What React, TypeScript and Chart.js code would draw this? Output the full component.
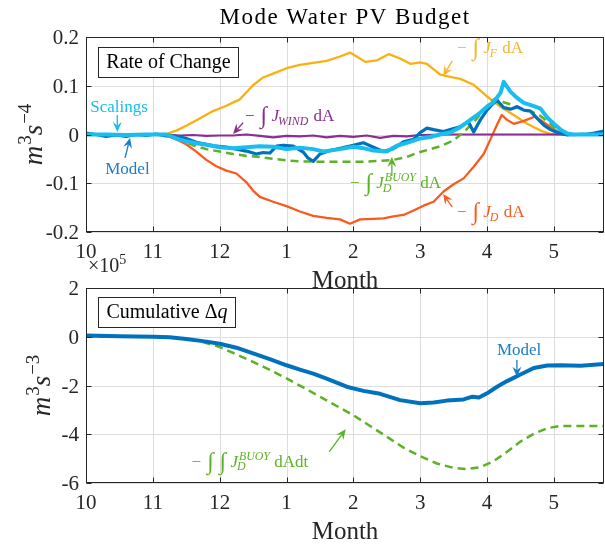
import React, { useEffect, useRef } from 'react';
import { Chart, registerables } from 'chart.js';
Chart.register(...registerables);

const FONT = "'Liberation Serif', 'Times New Roman', serif";

// ---------- axes / ticks ----------
const monthTicks = [0, 1, 2, 3, 4, 5, 6, 7];
const monthLabels = ['10', '11', '12', '1', '2', '3', '4', '5'];
const xMin = 0;
const xMax = 7.75;

const rateTicks = [0.2, 0.1, 0, -0.1, -0.2];
const rateTickLabels = ['0.2', '0.1', '0', '-0.1', '-0.2'];
const cumTicks = [2, 0, -2, -4, -6];
const cumTickLabels = ['2', '0', '-2', '-4', '-6'];

// ---------- top panel: rate of change (m^3 s^-4) ----------
const jfT = [0, 1.0, 1.2, 1.35, 1.5, 1.7, 1.9, 2.1, 2.3, 2.5, 2.65, 2.8, 3.0, 3.2, 3.4, 3.6, 3.8, 3.95, 4.05, 4.18, 4.35, 4.53, 4.7, 4.85, 5.0, 5.1, 5.3, 5.45, 5.6, 5.8, 6.0, 6.2, 6.4, 6.6, 6.8, 6.95, 7.1, 7.75];
const jfV = [0, 0, 0.001, 0.008, 0.018, 0.033, 0.048, 0.059, 0.072, 0.101, 0.117, 0.125, 0.136, 0.143, 0.147, 0.151, 0.160, 0.168, 0.160, 0.149, 0.152, 0.165, 0.156, 0.145, 0.148, 0.145, 0.123, 0.118, 0.114, 0.102, 0.078, 0.057, 0.040, 0.022, 0.008, 0.001, 0, 0];

const jdT = [0, 1.0, 1.2, 1.35, 1.5, 1.65, 1.8, 1.95, 2.1, 2.25, 2.4, 2.5, 2.6, 2.8, 3.0, 3.2, 3.4, 3.6, 3.8, 3.95, 4.1, 4.3, 4.45, 4.6, 4.75, 4.9, 5.05, 5.2, 5.35, 5.5, 5.65, 5.8, 5.95, 6.05, 6.15, 6.22, 6.3, 6.4, 6.55, 6.72, 6.8, 6.9, 7.0, 7.15, 7.75];
const jdV = [0, 0, -0.002, -0.010, -0.020, -0.035, -0.052, -0.065, -0.074, -0.080, -0.098, -0.115, -0.128, -0.138, -0.147, -0.158, -0.167, -0.171, -0.174, -0.183, -0.174, -0.173, -0.172, -0.168, -0.165, -0.156, -0.146, -0.138, -0.117, -0.102, -0.090, -0.066, -0.040, -0.010, 0.020, 0.040, 0.030, 0.022, 0.028, 0.037, 0.030, 0.020, 0.010, 0, 0];

const windT = [0, 1.2, 1.4, 1.6, 1.8, 2.0, 2.2, 2.4, 2.6, 2.8, 3.0, 3.2, 3.4, 3.6, 3.8, 4.0, 4.2, 4.4, 4.6, 4.8, 5.0, 5.5, 6.0, 6.5, 7.0, 7.2, 7.75];
const windV = [0, 0, -0.002, -0.001, -0.003, -0.002, -0.002, 0, -0.003, -0.006, -0.003, -0.004, -0.002, -0.006, -0.003, -0.005, -0.002, -0.007, -0.003, -0.004, -0.001, 0, 0, 0, 0, 0, 0];

const buoyT = [0, 1.2, 1.4, 1.6, 1.8, 2.0, 2.2, 2.4, 2.6, 2.8, 3.0, 3.2, 3.5, 3.8, 4.1, 4.4, 4.6, 4.8, 4.95, 5.1, 5.3, 5.5, 5.65, 5.8, 5.95, 6.05, 6.12, 6.2, 6.35, 6.5, 6.65, 6.8, 6.95, 7.05, 7.15, 7.75];
const buoyV = [0, 0, -0.010, -0.022, -0.030, -0.035, -0.040, -0.044, -0.046, -0.050, -0.053, -0.055, -0.056, -0.056, -0.056, -0.054, -0.052, -0.046, -0.038, -0.032, -0.024, -0.012, 0.005, 0.025, 0.050, 0.066, 0.074, 0.068, 0.062, 0.054, 0.048, 0.038, 0.022, 0.008, 0, 0];

const modelT = [0, 0.15, 0.3, 0.45, 0.6, 0.75, 0.9, 1.05, 1.2, 1.35, 1.5, 1.65, 1.8, 1.95, 2.1, 2.25, 2.4, 2.55, 2.65, 2.75, 2.85, 2.95, 3.1, 3.25, 3.32, 3.4, 3.5, 3.65, 3.85, 4.0, 4.15, 4.3, 4.45, 4.6, 4.75, 4.9, 5.0, 5.1, 5.2, 5.35, 5.5, 5.6, 5.72, 5.8, 5.9, 6.0, 6.08, 6.15, 6.25, 6.35, 6.45, 6.55, 6.65, 6.75, 6.85, 6.95, 7.05, 7.2, 7.35, 7.5, 7.6, 7.75];
const modelV = [0.003, 0.000, -0.004, -0.001, -0.004, 0.000, -0.002, 0.001, -0.003, -0.004, -0.008, -0.016, -0.020, -0.024, -0.026, -0.030, -0.034, -0.040, -0.037, -0.038, -0.024, -0.022, -0.024, -0.036, -0.048, -0.055, -0.040, -0.033, -0.027, -0.022, -0.017, -0.026, -0.035, -0.029, -0.015, -0.010, 0.004, 0.013, 0.010, 0.006, 0.012, 0.016, 0.026, 0.005, 0.030, 0.050, 0.062, 0.070, 0.055, 0.052, 0.057, 0.050, 0.048, 0.033, 0.019, 0.010, 0.004, -0.001, 0.000, 0.001, 0.003, 0.007];

const scaleT = [0, 0.3, 0.6, 0.9, 1.2, 1.35, 1.5, 1.65, 1.8, 2.0, 2.2, 2.4, 2.6, 2.8, 3.0, 3.2, 3.4, 3.55, 3.75, 4.0, 4.15, 4.3, 4.5, 4.65, 4.85, 5.0, 5.15, 5.3, 5.45, 5.6, 5.75, 5.9, 6.0, 6.1, 6.2, 6.25, 6.35, 6.45, 6.55, 6.7, 6.8, 6.9, 7.0, 7.1, 7.2, 7.3, 7.75];
const scaleV = [0.000, 0.000, -0.001, 0.000, 0.000, -0.008, -0.014, -0.018, -0.021, -0.026, -0.028, -0.026, -0.024, -0.025, -0.030, -0.027, -0.030, -0.035, -0.031, -0.025, -0.028, -0.033, -0.035, -0.023, -0.015, -0.008, -0.005, 0.000, 0.004, 0.015, 0.030, 0.045, 0.057, 0.067, 0.085, 0.108, 0.088, 0.075, 0.065, 0.058, 0.053, 0.035, 0.022, 0.010, 0.002, 0.000, 0.000];

// ---------- bottom panel: cumulative (x 1e5 m^3 s^-3) ----------
const cumModelT = [0, 0.5, 1.0, 1.25, 1.5, 1.75, 2.0, 2.25, 2.5, 2.75, 3.0, 3.2, 3.4, 3.6, 3.9, 4.15, 4.4, 4.7, 5.0, 5.2, 5.4, 5.65, 5.78, 5.88, 6.0, 6.15, 6.3, 6.5, 6.7, 6.9, 7.1, 7.4, 7.75];
const cumModelV = [0.05, 0.02, 0.0, -0.02, -0.09, -0.18, -0.29, -0.45, -0.68, -0.92, -1.17, -1.35, -1.51, -1.72, -2.05, -2.22, -2.34, -2.60, -2.73, -2.70, -2.62, -2.57, -2.46, -2.49, -2.32, -2.05, -1.82, -1.55, -1.28, -1.18, -1.17, -1.19, -1.12];

const cumBuoyT = [0, 0.5, 1.0, 1.25, 1.5, 1.75, 2.0, 2.25, 2.5, 2.75, 3.0, 3.25, 3.5, 3.75, 4.0, 4.25, 4.5, 4.75, 5.0, 5.25, 5.5, 5.7, 5.9, 6.1, 6.3, 6.5, 6.7, 6.9, 7.1, 7.4, 7.75];
const cumBuoyV = [0.0, 0.0, 0.0, -0.02, -0.08, -0.22, -0.42, -0.72, -1.03, -1.36, -1.71, -2.08, -2.46, -2.84, -3.22, -3.66, -4.1, -4.55, -4.9, -5.2, -5.38, -5.43, -5.35, -5.1, -4.72, -4.3, -3.98, -3.75, -3.66, -3.66, -3.66];

// ---------- colours ----------
const C_ORANGE = '#FBB012';
const C_RED = '#F95B1D';
const C_PURPLE = '#8B2D91';
const C_GREEN = '#5DB125';
const C_BLUE = '#0072BD';
const C_CYAN = '#19BDEF';

type Seg = { t: string; i?: boolean; sub?: string; sup?: string; supI?: boolean; big?: number; dy?: number };

const fontStr = (size: number, italic: boolean) => `${italic ? 'italic ' : ''}${size}px ${FONT}`;

function measureSeg(ctx: CanvasRenderingContext2D, s: Seg, size: number) {
  ctx.font = fontStr(size * (s.big || 1), !!s.i);
  const w = ctx.measureText(s.t).width;
  const small = size * 0.7;
  let ex = 0;
  if (s.sup) { ctx.font = fontStr(small, !!s.supI); ex = Math.max(ex, ctx.measureText(s.sup).width + (s.i ? 1 : 0)); }
  if (s.sub) { ctx.font = fontStr(small, true); ex = Math.max(ex, ctx.measureText(s.sub).width); }
  return w + ex;
}

function drawRich(ctx: CanvasRenderingContext2D, segs: Seg[], x: number, y: number, size: number, color: string, align: 'left' | 'center' = 'left') {
  const total = segs.reduce((a, s) => a + measureSeg(ctx, s, size), 0);
  let cx = align === 'center' ? x - total / 2 : x;
  ctx.fillStyle = color;
  ctx.textBaseline = 'alphabetic';
  ctx.textAlign = 'left';
  for (const s of segs) {
    ctx.font = fontStr(size * (s.big || 1), !!s.i);
    ctx.fillText(s.t, cx, y + (s.dy || 0) * size);
    const w = ctx.measureText(s.t).width;
    const small = size * 0.7;
    let ex = 0;
    if (s.sup) {
      ctx.font = fontStr(small, !!s.supI);
      ctx.fillText(s.sup, cx + w + (s.i ? 1 : 0), y - size * 0.4);
      ex = Math.max(ex, ctx.measureText(s.sup).width + (s.i ? 1 : 0));
    }
    if (s.sub) {
      ctx.font = fontStr(small, true);
      ctx.fillText(s.sub, cx + w - (s.i ? 1 : 0), y + size * 0.22);
      ex = Math.max(ex, ctx.measureText(s.sub).width);
    }
    cx += w + ex;
  }
}

function drawArrow(ctx: CanvasRenderingContext2D, x1: number, y1: number, x2: number, y2: number, color: string) {
  const dx = x2 - x1, dy = y2 - y1;
  const len = Math.hypot(dx, dy) || 1;
  const ux = dx / len, uy = dy / len;
  const nx = -uy, ny = ux;
  const L = 10, W = 4.5, N = 3.5;
  ctx.strokeStyle = color;
  ctx.fillStyle = color;
  ctx.lineWidth = 1.3;
  ctx.beginPath();
  ctx.moveTo(x1, y1);
  ctx.lineTo(x2 - ux * (L - N), y2 - uy * (L - N));
  ctx.stroke();
  ctx.beginPath();
  ctx.moveTo(x2, y2);
  ctx.lineTo(x2 - ux * L + nx * W, y2 - uy * L + ny * W);
  ctx.lineTo(x2 - ux * (L - N), y2 - uy * (L - N));
  ctx.lineTo(x2 - ux * L - nx * W, y2 - uy * L - ny * W);
  ctx.closePath();
  ctx.fill();
}

type Ann = { segs: Seg[]; x: number; y: number; align: 'left' | 'center'; color: string; arrow: [number, number, number, number] };

type Deco = {
  yTicks: number[];
  yLabels: string[];
  yTitle: Seg[];
  yTitleX: number;
  title?: string;
  boxText: Seg[];
  boxW: number;
  boxTopOff: number;
  anns: Ann[];
  exponent?: boolean;
};

function makeDeco(d: Deco) {
  return {
    id: 'deco',
    beforeDatasetsDraw(chart: any) {
      const { ctx, chartArea: a, scales } = chart;
      const xs = scales.x, ys = scales.y;
      ctx.save();
      ctx.strokeStyle = '#dedede';
      ctx.lineWidth = 1;
      for (const t of monthTicks) {
        const px = Math.round(xs.getPixelForValue(t)) + 0.5;
        ctx.beginPath(); ctx.moveTo(px, a.top); ctx.lineTo(px, a.bottom); ctx.stroke();
      }
      for (const v of d.yTicks) {
        const py = Math.round(ys.getPixelForValue(v)) + 0.5;
        ctx.beginPath(); ctx.moveTo(a.left, py); ctx.lineTo(a.right, py); ctx.stroke();
      }
      ctx.restore();
    },
    afterDatasetsDraw(chart: any) {
      const { ctx, chartArea: a, scales } = chart;
      const xs = scales.x, ys = scales.y;
      ctx.save();
      ctx.strokeStyle = '#262626';
      ctx.lineWidth = 1;
      const L = Math.round(a.left) + 0.5, R = Math.round(a.right) - 0.5;
      const T = Math.round(a.top) + 0.5, B = Math.round(a.bottom) - 0.5;
      ctx.strokeRect(L, T, R - L, B - T);
      ctx.beginPath();
      for (const t of monthTicks) {
        const px = Math.round(xs.getPixelForValue(t)) + 0.5;
        ctx.moveTo(px, B); ctx.lineTo(px, B - 5);
        ctx.moveTo(px, T); ctx.lineTo(px, T + 5);
      }
      for (const v of d.yTicks) {
        const py = Math.round(ys.getPixelForValue(v)) + 0.5;
        ctx.moveTo(L, py); ctx.lineTo(L + 5, py);
        ctx.moveTo(R, py); ctx.lineTo(R - 5, py);
      }
      ctx.stroke();
      ctx.fillStyle = '#262626';
      ctx.font = fontStr(21, false);
      ctx.textAlign = 'center';
      ctx.textBaseline = 'alphabetic';
      monthTicks.forEach((t, i) => ctx.fillText(monthLabels[i], xs.getPixelForValue(t), a.bottom + 26));
      ctx.textAlign = 'right';
      d.yTicks.forEach((v, i) => ctx.fillText(d.yLabels[i], a.left - 7, ys.getPixelForValue(v) + 7));
      ctx.textAlign = 'center';
      ctx.font = fontStr(25, false);
      ctx.fillStyle = '#262626';
      ctx.fillText('Month', (a.left + a.right) / 2, a.bottom + 56);
      if (d.title) {
        ctx.font = fontStr(23, false);
        (ctx as any).letterSpacing = '1.5px';
        ctx.fillStyle = '#000';
        ctx.fillText(d.title, (a.left + a.right) / 2, a.top - 13.5);
        (ctx as any).letterSpacing = '0px';
      }
      if (d.exponent) {
        drawRich(ctx, [{ t: '×10', sup: '5' }], a.left + 2, a.top - 16, 20, '#262626');
      }
      ctx.save();
      ctx.translate(d.yTitleX, (a.top + a.bottom) / 2);
      ctx.rotate(-Math.PI / 2);
      drawRich(ctx, d.yTitle, 0, 0, 27, '#262626', 'center');
      ctx.restore();
      const bx = Math.round(a.left + 12) + 0.5, by = Math.round(a.top + d.boxTopOff) + 0.5;
      ctx.fillStyle = '#fff';
      ctx.fillRect(bx, by, d.boxW, 30);
      ctx.strokeStyle = '#262626';
      ctx.strokeRect(bx, by, d.boxW, 30);
      drawRich(ctx, d.boxText, bx + d.boxW / 2, by + 20, 20, '#000', 'center');
      for (const an of d.anns) {
        const [tx, ty, hx, hy] = an.arrow;
        drawArrow(ctx, xs.getPixelForValue(tx), ys.getPixelForValue(ty), xs.getPixelForValue(hx), ys.getPixelForValue(hy), an.color);
        drawRich(ctx, an.segs, xs.getPixelForValue(an.x), ys.getPixelForValue(an.y), 17, an.color, an.align);
      }
      ctx.restore();
    },
  };
}

const pts = (xs: number[], ys: number[]) => xs.map((x, i) => ({ x, y: ys[i] }));

function line(label: string, t: number[], v: number[], color: string, width: number, order: number, dash?: number[]) {
  return {
    label,
    data: pts(t, v),
    borderColor: color,
    backgroundColor: color,
    borderWidth: width,
    borderDash: dash || [],
    pointRadius: 0,
    tension: 0,
    fill: false,
    order,
    clip: 0,
    borderJoinStyle: 'round' as const,
  };
}

function baseOptions(padTop: number, padBottom: number, yMin: number, yMax: number) {
  return {
    responsive: false,
    animation: false as const,
    devicePixelRatio: 1,
    events: [],
    layout: { padding: { left: 86, right: 1, top: padTop, bottom: padBottom } },
    plugins: { legend: { display: false }, tooltip: { enabled: false }, title: { display: false } },
    scales: {
      x: { type: 'linear' as const, min: xMin, max: xMax, display: false },
      y: { type: 'linear' as const, min: yMin, max: yMax, display: false },
    },
  };
}

const INT: Seg = { t: ' ∫', big: 1.4, dy: 0.12 };
const intJ = (sub: string): Seg[] => [{ t: '−' }, INT, { t: ' ' }, { t: 'J', i: true, sub }, { t: ' dA' }];

const topDeco: Deco = {
  yTicks: rateTicks,
  yLabels: rateTickLabels,
  yTitle: [{ t: 'm', i: true, sup: '3' }, { t: 's', i: true, sup: '−4' }],
  yTitleX: 42,
  title: 'Mode Water PV Budget',
  boxText: [{ t: 'Rate of Change' }],
  boxW: 140,
  boxTopOff: 10,
  anns: [
    { segs: [{ t: 'Scalings' }], x: 0.494, y: 0.046, align: 'center', color: C_CYAN, arrow: [0.468, 0.040, 0.468, 0.005] },
    { segs: [{ t: 'Model' }], x: 0.62, y: -0.080, align: 'center', color: '#1A7DC8', arrow: [0.584, -0.048, 0.659, -0.007] },
    { segs: intJ('WIND'), x: 2.38, y: 0.028, align: 'left', color: C_PURPLE, arrow: [2.35, 0.024, 2.2, 0.001] },
    { segs: intJ('F'), x: 5.55, y: 0.167, align: 'left', color: '#F6B52A', arrow: [5.48, 0.151, 5.344, 0.120] },
    { segs: intJ('D'), x: 5.55, y: -0.169, align: 'left', color: C_RED, arrow: [5.48, -0.149, 5.344, -0.122] },
    { segs: [{ t: '−' }, INT, { t: ' ' }, { t: 'J', i: true, sub: 'D', sup: 'BUOY', supI: true }, { t: ' dA' }], x: 3.95, y: -0.110, align: 'left', color: C_GREEN, arrow: [4.576, -0.085, 4.576, -0.046] },
  ],
};

const bottomDeco: Deco = {
  yTicks: cumTicks,
  yLabels: cumTickLabels,
  yTitle: [{ t: 'm', i: true, sup: '3' }, { t: 's', i: true, sup: '−3' }],
  yTitleX: 50,
  boxText: [{ t: 'Cumulative Δ' }, { t: 'q', i: true }],
  boxW: 137,
  boxTopOff: 9,
  exponent: true,
  anns: [
    { segs: [{ t: 'Model' }], x: 6.48, y: -0.757, align: 'center', color: '#1A7DC8', arrow: [6.447, -0.95, 6.447, -1.646] },
    { segs: [{ t: '−' }, INT, INT, { t: ' ' }, { t: 'J', i: true, sub: 'D', sup: 'BUOY', supI: true }, { t: ' dAdt' }], x: 1.58, y: -5.33, align: 'left', color: C_GREEN, arrow: [3.638, -4.72, 3.885, -3.797] },
  ],
};

export default function App() {
  const r1 = useRef<HTMLCanvasElement>(null);
  const r2 = useRef<HTMLCanvasElement>(null);
  useEffect(() => {
    const c1 = new Chart(r1.current as HTMLCanvasElement, {
      type: 'line',
      data: {
        datasets: [
          line('Scalings', scaleT, scaleV, C_CYAN, 4, 0),
          line('Model', modelT, modelV, C_BLUE, 3.2, 1),
          line('-int J_D^BUOY dA', buoyT, buoyV, C_GREEN, 2.5, 2, [8, 5]),
          line('-int J_WIND dA', windT, windV, C_PURPLE, 2.2, 3),
          line('-int J_D dA', jdT, jdV, C_RED, 2.3, 4),
          line('-int J_F dA', jfT, jfV, C_ORANGE, 2.3, 5),
        ] as any,
      },
      options: baseOptions(37, 300 - 232, -0.2, 0.2) as any,
      plugins: [makeDeco(topDeco) as any],
    });
    const c2 = new Chart(r2.current as HTMLCanvasElement, {
      type: 'line',
      data: {
        datasets: [
          line('Model', cumModelT, cumModelV, C_BLUE, 4, 0),
          line('-intint J_D^BUOY dAdt', cumBuoyT, cumBuoyV, C_GREEN, 2.5, 1, [8, 5]),
        ] as any,
      },
      options: baseOptions(38, 294 - 233, -6, 2) as any,
      plugins: [makeDeco(bottomDeco) as any],
    });
    return () => {
      c1.destroy();
      c2.destroy();
    };
  }, []);
  return (
    <div style={{ position: 'absolute', left: 0, top: 0, width: 605, height: 544, background: '#fff', overflow: 'hidden' }}>
      <canvas ref={r1} width={605} height={300} style={{ position: 'absolute', left: 0, top: 0, width: 605, height: 300 }} />
      <canvas ref={r2} width={605} height={294} style={{ position: 'absolute', left: 0, top: 250, width: 605, height: 294 }} />
    </div>
  );
}
